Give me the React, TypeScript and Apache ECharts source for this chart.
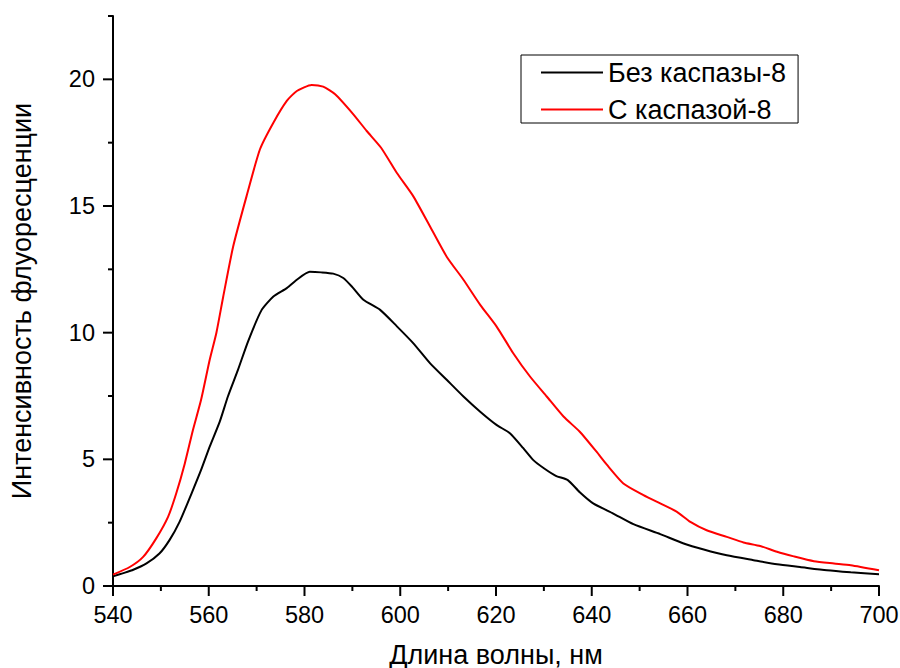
import React, { useEffect, useRef } from "react";
import * as echarts from "echarts";

const FONT = "'Liberation Sans', Arial, sans-serif";

const seriesNames = ["Без каспазы-8", "С каспазой-8"];

const wlBlack = [
  540, 542, 544, 547, 549.7, 551.8, 553.9, 556.4, 558.4, 560.2, 562.3, 564, 566.1, 568.2, 571,
  573.5, 576.3, 578.4, 581.1, 583.5, 586, 588.1, 590, 592.3, 595.8, 599.3, 602.7, 606.2, 609.7,
  613.2, 616.7, 620.1, 622.9, 625.7, 627.8, 630, 632.5, 635, 637.5, 640.3, 644.5, 648.7, 654.3,
  659.2, 663.4, 668.2, 673.8, 678.7, 683.5, 689.1, 694.1, 700,
];
const valBlack = [
  0.38, 0.5, 0.62, 0.89, 1.28, 1.81, 2.53, 3.65, 4.58, 5.5, 6.49, 7.48, 8.53, 9.65, 10.88,
  11.43, 11.76, 12.09, 12.4, 12.38, 12.33, 12.16, 11.8, 11.3, 10.9, 10.25, 9.59, 8.8, 8.14,
  7.48, 6.88, 6.36, 6.03, 5.44, 4.97, 4.65, 4.35, 4.18, 3.7, 3.26, 2.86, 2.44, 2.05,
  1.68, 1.44, 1.21, 1.02, 0.86, 0.75, 0.62, 0.54, 0.46,
];

const wlRed = [
  540, 543.5, 546.3, 549, 551.5, 553.2, 555, 556.7, 558.4, 560.2, 561.6, 563, 565.1, 567.9, 570.7,
  573.5, 576.3, 578.4, 581.5, 583.9, 586.4, 590.2, 593, 596, 599.3, 602.7, 606.2, 609.7, 613.2,
  616.7, 620.1, 623.6, 627.1, 630.6, 634.1, 637.5, 641, 643.1, 646.6, 650.8, 654.3, 657.8, 660.6,
  664, 668.2, 671.7, 675.2, 678.7, 682.2, 686.4, 690.6, 694.1, 700,
];
const valRed = [
  0.45, 0.75, 1.15, 1.87, 2.73, 3.65, 4.84, 6.16, 7.35, 8.93, 10.0, 11.4, 13.4, 15.39, 17.24,
  18.29, 19.15, 19.54, 19.78, 19.71, 19.41, 18.62, 17.96, 17.3, 16.3, 15.39, 14.2, 13.0, 12.09,
  11.1, 10.25, 9.19, 8.27, 7.48, 6.69, 6.09, 5.3, 4.8, 4.05, 3.59, 3.26, 2.93, 2.53,
  2.2, 1.94, 1.72, 1.58, 1.35, 1.17, 0.98, 0.89, 0.82, 0.62,
];

const xMin = 540;
const xMax = 700;
const yMin = 0;
const yMax = 22.5;
const xMajorTicks = [540, 560, 580, 600, 620, 640, 660, 680, 700];
const xMinorTicks = [550, 570, 590, 610, 630, 650, 670, 690];
const yMajorTicks = [0, 5, 10, 15, 20];
const yMinorTicks = [2.5, 7.5, 12.5, 17.5, 22.5];

const xTitle = "Длина волны, нм";
const yTitle = "Интенсивность флуоресценции";

export default function App() {
  const ref = useRef<HTMLDivElement>(null);
  useEffect(() => {
    document.body.style.margin = "0";
    if (!ref.current) return;
    const chart = echarts.init(ref.current, undefined, { renderer: "svg" });
    const label = { color: "#000", fontSize: 23.5, fontFamily: FONT };

    // tick anchored at data point (x, y), extended outward by a pixel length
    const ticks: { x: number; y: number; axis: "x" | "y"; len: number }[] = [
      ...xMajorTicks.map((v) => ({ x: v, y: yMin, axis: "x" as const, len: 10 })),
      ...xMinorTicks.map((v) => ({ x: v, y: yMin, axis: "x" as const, len: 5 })),
      ...yMajorTicks.map((v) => ({ x: xMin, y: v, axis: "y" as const, len: 10 })),
      ...yMinorTicks.map((v) => ({ x: xMin, y: v, axis: "y" as const, len: 5 })),
    ];

    chart.setOption({
      animation: false,
      backgroundColor: "#fff",
      grid: { left: 113, right: 21, top: 16, bottom: 82, containLabel: false, outerBoundsMode: "none" },
      legend: {
        left: 521,
        top: 55,
        orient: "vertical",
        backgroundColor: "#fff",
        borderColor: "#000",
        borderWidth: 1,
        borderRadius: 0,
        padding: [4, 12, 0, 19],
        itemGap: 10,
        itemWidth: 62,
        itemHeight: 14,
        itemStyle: { opacity: 0 },
        lineStyle: { width: 2 },
        textStyle: { color: "#000", fontSize: 27, fontFamily: FONT },
        data: seriesNames,
      },
      xAxis: {
        type: "value",
        min: xMin,
        max: xMax,
        interval: 20,
        axisLine: { show: true, onZero: false, lineStyle: { color: "#000", width: 2 } },
        axisTick: { show: false },
        axisLabel: { ...label, margin: 17 },
        splitLine: { show: false },
        name: xTitle,
        nameLocation: "middle",
        nameGap: 55,
        nameTextStyle: { color: "#000", fontSize: 27, fontFamily: FONT },
      },
      yAxis: {
        type: "value",
        min: yMin,
        max: yMax,
        interval: 2.5,
        axisLine: { show: true, onZero: false, lineStyle: { color: "#000", width: 2 } },
        axisTick: { show: false },
        axisLabel: { ...label, margin: 18, customValues: yMajorTicks },
        splitLine: { show: false },
        name: yTitle,
        nameLocation: "middle",
        nameGap: 78,
        nameTextStyle: { color: "#000", fontSize: 27, fontFamily: FONT },
      },
      series: [
        {
          name: seriesNames[0],
          type: "line",
          symbol: "none",
          smooth: 0.2,
          lineStyle: { color: "#000", width: 2 },
          itemStyle: { color: "#000" },
          data: wlBlack.map((w, i) => [w, valBlack[i]]),
        },
        {
          name: seriesNames[1],
          type: "line",
          symbol: "none",
          smooth: 0.2,
          lineStyle: { color: "#ff0000", width: 2 },
          itemStyle: { color: "#ff0000" },
          data: wlRed.map((w, i) => [w, valRed[i]]),
        },
        {
          name: "axis-ticks",
          type: "custom",
          clip: false,
          silent: true,
          z: 5,
          data: ticks.map((t) => [t.x, t.y]),
          renderItem: (params: any, api: any) => {
            const t = ticks[params.dataIndex];
            const p = api.coord([api.value(0), api.value(1)]);
            const shape =
              t.axis === "x"
                ? { x: p[0] - 1, y: p[1], width: 2, height: t.len }
                : { x: p[0] - t.len, y: p[1] - 1, width: t.len, height: 2 };
            return { type: "rect", shape, style: { fill: "#000" } };
          },
        },
      ],
    });
    return () => chart.dispose();
  }, []);
  return <div ref={ref} style={{ width: 900, height: 668 }} />;
}
